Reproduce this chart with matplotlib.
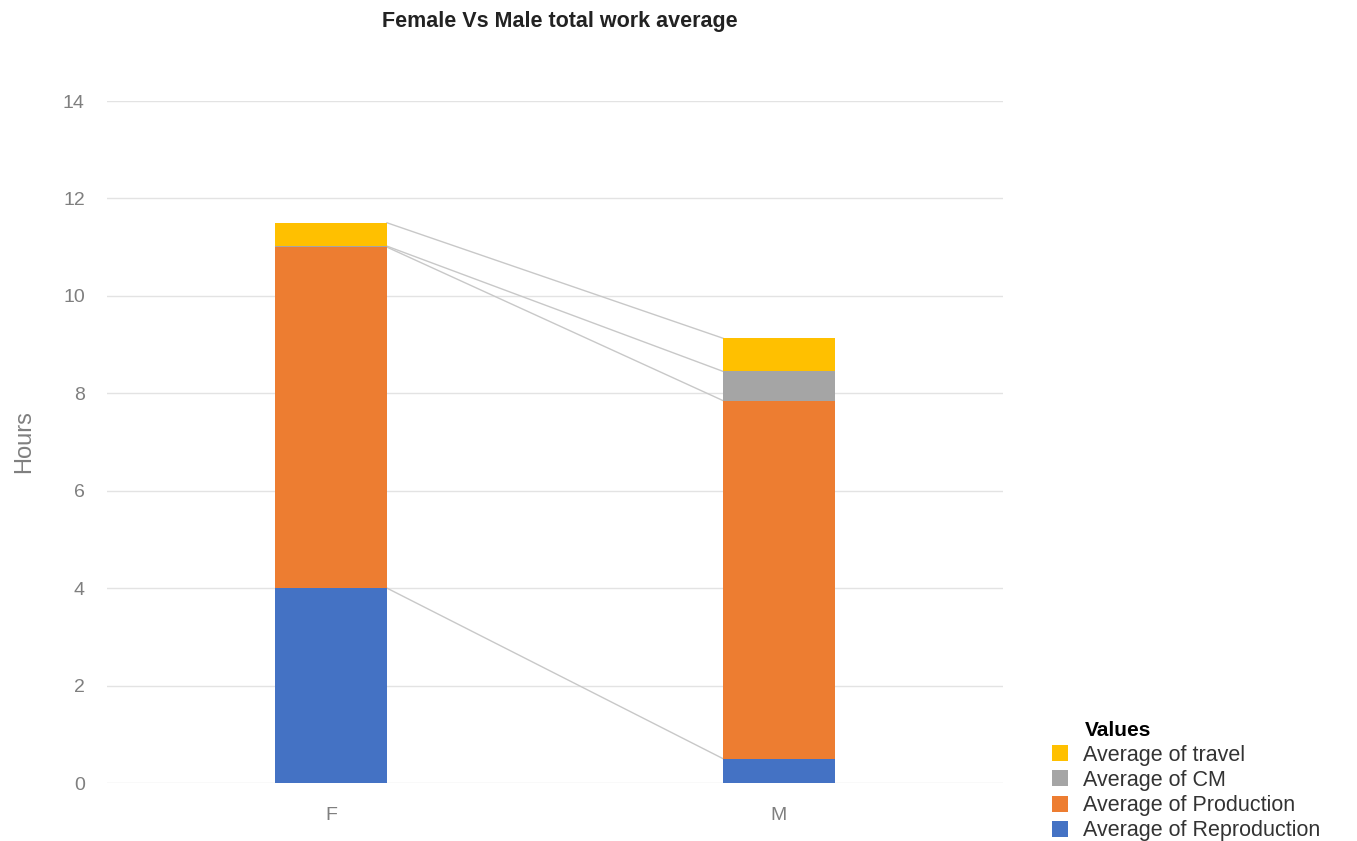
import numpy as np
import matplotlib.pyplot as plt

plt.rcParams['font.family'] = ['Liberation Sans', 'DejaVu Sans']

# data
categories = ['F', 'M']
series_names = ['Average of Reproduction', 'Average of Production',
                'Average of CM', 'Average of travel']
reproduction = [4.0, 0.5]
production = [7.0, 7.35]
cm = [0.02, 0.6]
travel = [0.48, 0.68]

colors = ['#4472C4', '#ED7D31', '#A5A5A5', '#FFC000']
bar_width = 0.25

fig = plt.figure(figsize=(13.57, 8.41), dpi=100)
ax = fig.add_axes([107 / 1357, 58 / 841, 896 / 1357, 682 / 841])

x = np.arange(len(categories))
values = [reproduction, production, cm, travel]
bottom = np.zeros(len(categories))
handles = []
for name, vals, col in zip(series_names, values, colors):
    vals = np.array(vals)
    b = ax.bar(x, vals, bar_width, bottom=bottom, color=col, label=name, zorder=3)
    handles.append(b)
    top = bottom + vals
    # series lines between bars
    ax.plot([x[0] + bar_width / 2, x[1] - bar_width / 2], [top[0], top[1]],
            color='#c8c8c8', linewidth=1.0, zorder=2)
    bottom = top

ax.set_xlim(-0.5, 1.5)
ax.set_ylim(0, 14)
ax.set_yticks(range(0, 15, 2))
ax.set_xticks(x)
ax.set_xticklabels(categories)
ax.grid(axis='y', color='#e3e3e3', linewidth=1.0, zorder=0)
ax.tick_params(axis='both', length=0, labelsize=14, colors='#7f7f7f')
ax.tick_params(axis='x', pad=17)
ax.tick_params(axis='y', pad=16)
for s in ax.spines.values():
    s.set_visible(False)

ax.set_ylabel('Hours', fontsize=17, color='#7f7f7f', labelpad=20)

fig.text(560 / 1357, 1 - 22 / 841, 'Female Vs Male total work average',
         ha='center', va='center', fontsize=15.5, fontweight='bold', color='#222222')

leg = fig.legend(handles[::-1], series_names[::-1], title='Values',
                 loc='upper left', bbox_to_anchor=(1035 / 1357, 1 - 704 / 841),
                 frameon=False, fontsize=15.5, title_fontsize=15,
                 handlelength=0.75, handleheight=0.75, handletextpad=0.7,
                 labelspacing=0.2, alignment='left', borderpad=0.3)
leg.get_title().set_fontweight('bold')
leg.get_title().set_position((33, 0))
for t in leg.get_texts():
    t.set_color('#333333')

fig.savefig('out.png', dpi=100, facecolor='white')
